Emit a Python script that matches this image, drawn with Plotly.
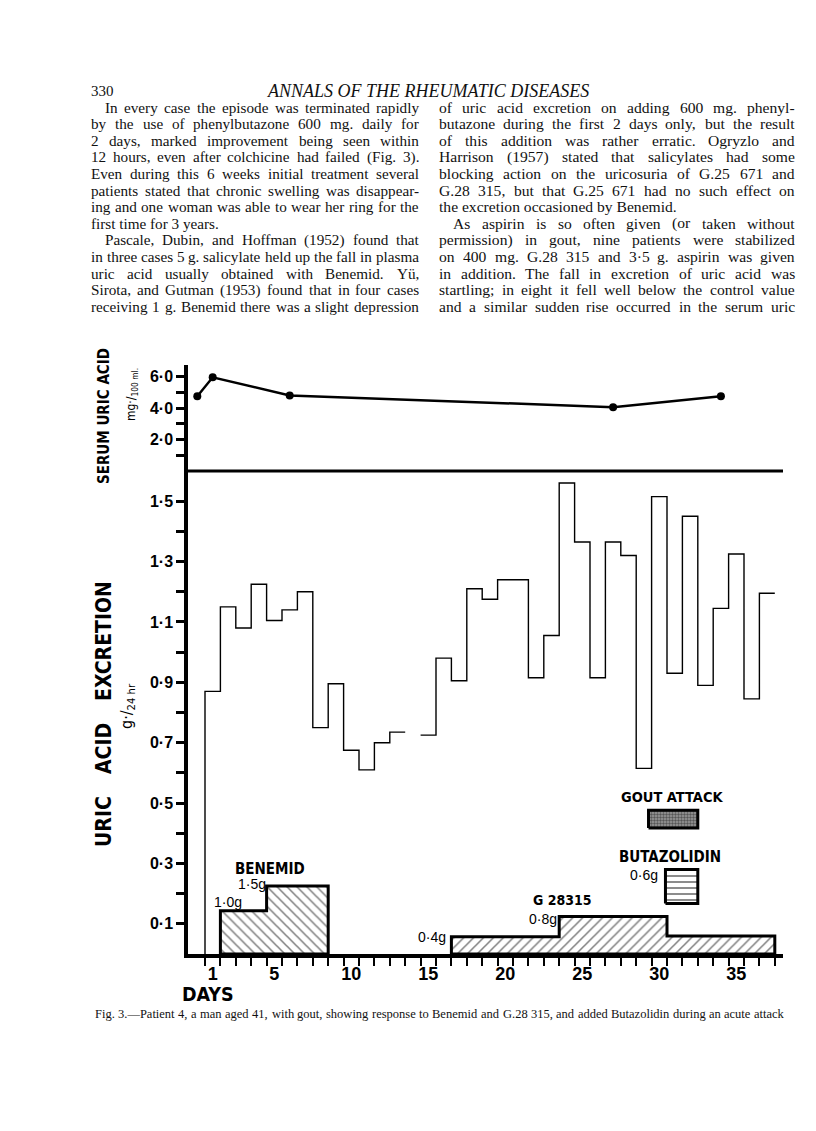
import plotly.graph_objects as go

W, H = 816, 1131

# ---------------- chart data ----------------
# uric acid excretion (g./24 hr); day n occupies the interval [n-1, n] on the axis
excretion_days = list(range(1, 38))
excretion_g = [0.87, 1.15, 1.08, 1.225, 1.105, 1.14, 1.20, 0.75, 0.895, 0.675,
               0.61, 0.70, 0.735, None, 0.725, 0.98, 0.905, 1.21, 1.175, 1.24,
               1.24, 0.915, 1.055, 1.56, 1.365, 0.915, 1.365, 1.32, 0.615, 1.515,
               0.93, 1.45, 0.89, 1.145, 1.325, 0.845, 1.195]
# serum uric acid (mg./100 ml.)
serum_days = [0, 1, 6, 27, 34]
serum_mg = [4.75, 5.95, 4.8, 4.05, 4.75]

# drug blocks (axis day boundaries, block heights in excretion units)
benemid_edges = [1, 4, 8]
benemid_level = [0.143, 0.225]
g28315_edges = [16, 23, 30, 37]
g28315_level = [0.057, 0.124, 0.06]
gout_attack_days = [28.8, 32]
gout_attack_band = [0.417, 0.476]
butazolidin_days = [29.9, 32]
butazolidin_band = [0.167, 0.28]

x_tick_days = [1, 5, 10, 15, 20, 25, 30, 35]
x_minor_ticks = [0, 1, 2, 3, 4, 5, 6, 7, 8, 9, 10, 11, 12, 13, 14, 15, 16, 17, 18,
                 19, 20, 21, 22, 23, 24, 25, 26, 27, 28, 29, 30, 31, 32, 33, 34, 35, 36, 37]
exc_tickvals = [0.1, 0.2, 0.3, 0.4, 0.5, 0.6, 0.7, 0.8, 0.9, 1.0, 1.1, 1.2, 1.3, 1.4, 1.5]
exc_ticktext = ["0·1", "", "0·3", "", "0·5", "", "0·7", "", "0·9", "", "1·1", "", "1·3", "", "1·5"]
serum_tickvals = [1, 2, 3, 4, 5, 6]
serum_ticktext = ["", "2·0", "", "4·0", "", "6·0"]

# ---------------- page text ----------------
header_page = "330"
header_title = "ANNALS OF THE RHEUMATIC DISEASES"
left_lines = [
    ("In every case the episode was terminated rapidly", True, False),
    ("by the use of phenylbutazone 600 mg. daily for", False, False),
    ("2 days, marked improvement being seen within", False, False),
    ("12 hours, even after colchicine had failed (Fig. 3).", False, False),
    ("Even during this 6 weeks initial treatment several", False, False),
    ("patients stated that chronic swelling was disappear-", False, False),
    ("ing and one woman was able to wear her ring for the", False, False),
    ("first time for 3 years.", False, True),
    ("Pascale, Dubin, and Hoffman (1952) found that", True, False),
    ("in three cases 5 g. salicylate held up the fall in plasma", False, False),
    ("uric acid usually obtained with Benemid. Yü,", False, False),
    ("Sirota, and Gutman (1953) found that in four cases", False, False),
    ("receiving 1 g. Benemid there was a slight depression", False, False),
]
right_lines = [
    ("of uric acid excretion on adding 600 mg. phenyl-", False, False),
    ("butazone during the first 2 days only, but the result", False, False),
    ("of this addition was rather erratic. Ogryzlo and", False, False),
    ("Harrison (1957) stated that salicylates had some", False, False),
    ("blocking action on the uricosuria of G.25 671 and", False, False),
    ("G.28 315, but that G.25 671 had no such effect on", False, False),
    ("the excretion occasioned by Benemid.", False, True),
    ("As aspirin is so often given (or taken without", True, False),
    ("permission) in gout, nine patients were stabilized", False, False),
    ("on 400 mg. G.28 315 and 3·5 g. aspirin was given", False, False),
    ("in addition. The fall in excretion of uric acid was", False, False),
    ("startling; in eight it fell well below the control value", False, False),
    ("and a similar sudden rise occurred in the serum uric", False, False),
]
caption = ("Fig. 3.—Patient 4, a man aged 41, with gout, showing response to Benemid "
           "and G.28 315, and added Butazolidin during an acute attack")

# ---------------- geometry helpers ----------------
AX_L, AX_R = 180, 775          # pixel x of plot area
BASE, SEP, TOP = 946, 463, 357  # pixel y: excretion zero, separator, serum top
TICK0, TICKSTEP = 197, 15.4     # pixel x of axis day 0 and per-day spacing


def px(x):
    return x / W


def py(y):
    return 1 - y / H


def kx(p):
    return (p - TICK0) / TICKSTEP


SERIF = "Liberation Serif, Times New Roman, serif"
SANS = "Liberation Sans, Arial, sans-serif"
NARROW = "Liberation Sans Narrow, Arial Narrow, DejaVu Sans Condensed, sans-serif"

TNR = {' ': 250, '!': 333, '"': 408, "'": 333, '(': 333, ')': 333, ',': 250, '-': 333,
       '.': 250, '/': 278, ':': 278, ';': 278, '?': 444, '·': 250, 'ü': 500, '—': 1000}
for c in "0123456789":
    TNR[c] = 500
TNR.update(dict(zip("ABCDEFGHIJKLMNOPQRSTUVWXYZ",
                    [722, 667, 667, 722, 611, 556, 722, 722, 333, 389, 722, 611, 889,
                     722, 722, 556, 722, 667, 556, 611, 722, 722, 944, 722, 722, 611])))
TNR.update(dict(zip("abcdefghijklmnopqrstuvwxyz",
                    [444, 500, 444, 500, 444, 333, 500, 500, 278, 278, 500, 278, 778,
                     500, 500, 500, 500, 333, 389, 278, 500, 500, 722, 500, 500, 444])))


def tw(s, fs):
    return sum(TNR.get(ch, 500) for ch in s) * fs / 1000.0


annotations = []


def text_ann(text, x, y, size, family=SERIF, anchor="left", color="#111", **kw):
    annotations.append(dict(text=text, x=px(x), y=py(y), xref="paper", yref="paper",
                            xanchor=anchor, yanchor="middle", showarrow=False,
                            borderpad=0, font=dict(family=family, size=size, color=color), **kw))


def body_line(text, x0, x1, y, fs, indent, last):
    words = text.split()
    if last or len(words) == 1:
        text_ann(text, x0 + indent, y, fs)
        return
    widths = [tw(w, fs) for w in words]
    gap = (x1 - x0 - indent - sum(widths)) / (len(words) - 1)
    x = x0 + indent
    for w, wd in zip(words, widths):
        text_ann(w, x, y, fs)
        x += wd + gap


LEAD = 16.6
FIRST = 99
LEFT_COL = (82, 410, 15.2)
RIGHT_COL = (430, 786, 15.6)
INDENT = 14

text_ann(header_page, 82, 83, 15)
text_ann(header_title, 420, 83, 18, anchor="center")
annotations[-1]["font"]["style"] = "italic"
for i, (t, ind, last) in enumerate(left_lines):
    body_line(t, LEFT_COL[0], LEFT_COL[1], FIRST + i * LEAD, LEFT_COL[2],
              INDENT if ind else 0, last)
for i, (t, ind, last) in enumerate(right_lines):
    body_line(t, RIGHT_COL[0], RIGHT_COL[1], FIRST + i * LEAD, RIGHT_COL[2],
              INDENT if ind else 0, last)
body_line(caption, 86, 775, 1006, 12.5, 0, False)

# ---------------- traces ----------------
fig = go.Figure()

# excretion step outline
sx, sy = [excretion_days[0] - 1], [0]
for d, v in zip(excretion_days, excretion_g):
    if v is None:
        sx.append(None)
        sy.append(None)
        continue
    sx += [d - 1, d]
    sy += [v, v]
fig.add_trace(go.Scatter(x=sx, y=sy, mode="lines", line=dict(color="black", width=1.4),
                         connectgaps=False, hoverinfo="skip"))

# serum uric acid
fig.add_trace(go.Scatter(x=[d - 0.5 for d in serum_days], y=serum_mg, yaxis="y2",
                         mode="lines+markers", line=dict(color="black", width=2.5),
                         marker=dict(color="black", size=8), hoverinfo="skip"))


def step_block(edges, levels):
    xs, ys = [edges[0]], [0]
    for i, lv in enumerate(levels):
        xs += [edges[i], edges[i + 1]]
        ys += [lv, lv]
    xs += [edges[-1], edges[0]]
    ys += [0, 0]
    return xs, ys


bx, by = step_block(benemid_edges, benemid_level)
fig.add_trace(go.Scatter(x=bx, y=by, mode="lines", fill="toself", fillcolor="white",
                         fillpattern=dict(shape="\\", fgcolor="black", bgcolor="white",
                                          size=7, solidity=0.22),
                         line=dict(color="black", width=3), hoverinfo="skip"))
gx, gy = step_block(g28315_edges, g28315_level)
fig.add_trace(go.Scatter(x=gx, y=gy, mode="lines", fill="toself", fillcolor="white",
                         fillpattern=dict(shape="/", fgcolor="black", bgcolor="white",
                                          size=7, solidity=0.22),
                         line=dict(color="black", width=3), hoverinfo="skip"))


def box(days, band):
    return ([days[0], days[1], days[1], days[0], days[0]],
            [band[0], band[0], band[1], band[1], band[0]])


ox, oy = box(gout_attack_days, gout_attack_band)
fig.add_trace(go.Scatter(x=ox, y=oy, mode="lines", fill="toself",
                         fillpattern=dict(shape=".", fgcolor="#111", bgcolor="#9a9a9a",
                                          size=3, solidity=0.5),
                         line=dict(color="black", width=3), hoverinfo="skip"))
zx, zy = box(butazolidin_days, butazolidin_band)
fig.add_trace(go.Scatter(x=zx, y=zy, mode="lines", fill="toself",
                         fillpattern=dict(shape="-", fgcolor="black", bgcolor="white",
                                          size=6, solidity=0.3),
                         line=dict(color="black", width=3), hoverinfo="skip"))


# ---------------- chart labels ----------------
def chart_ann(text, x, y, size, family=NARROW, weight="bold", anchor="center"):
    annotations.append(dict(text=text, x=x, y=y, xref="x", yref="y", xanchor=anchor,
                            yanchor="middle", showarrow=False, borderpad=0,
                            font=dict(family=family, size=size, color="black", weight=weight)))


chart_ann("BENEMID", 4.2, 0.282, 15)
chart_ann("1·5g", 4.0, 0.232, 14, family=SANS, weight="normal", anchor="right")
chart_ann("1·0g", 0.5, 0.172, 14, family=SANS, weight="normal", anchor="left")
chart_ann("G 28315", 23.2, 0.18, 14)
chart_ann("0·8g", 22.95, 0.115, 14, family=SANS, weight="normal", anchor="right")
chart_ann("0·4g", 15.7, 0.055, 14, family=SANS, weight="normal", anchor="right")
chart_ann("GOUT ATTACK", 30.3, 0.52, 14.5)
chart_ann("BUTAZOLIDIN", 30.2, 0.322, 15)
chart_ann("0·6g", 29.45, 0.262, 14, family=SANS, weight="normal", anchor="right")


# axis titles (rotated)
def rot_ann(text, x, y, size, family=NARROW, weight="bold"):
    annotations.append(dict(text=text, x=px(x), y=py(y), xref="paper", yref="paper",
                            xanchor="center", yanchor="middle", textangle=-90,
                            showarrow=False, borderpad=0,
                            font=dict(family=family, size=size, color="black", weight=weight)))


rot_ann("EXCRETION", 96, 633, 21)
rot_ann("ACID", 96, 741, 21)
rot_ann("URIC", 96, 814, 21)
rot_ann("SERUM URIC ACID", 96, 408, 15)
rot_ann("mg·/<sub>100 ml.</sub>", 124, 386, 12, weight="normal")
rot_ann("g·/<sub>24 hr</sub>", 119, 698, 16, weight="normal")
text_ann("DAYS", 200, 986, 19.5, family=NARROW, anchor="center", color="black")
annotations[-1]["font"]["weight"] = "bold"

# ---------------- layout ----------------
fig.update_layout(
    width=W, height=H, margin=dict(l=0, r=0, t=0, b=0),
    paper_bgcolor="white", plot_bgcolor="rgba(0,0,0,0)", showlegend=False,
    xaxis=dict(domain=[px(AX_L), px(AX_R)], range=[kx(AX_L), kx(AX_R)],
               showline=True, linecolor="black", linewidth=4, showgrid=False,
               zeroline=False, tickmode="array",
               tickvals=[d - 0.5 for d in x_tick_days], ticktext=[str(d) for d in x_tick_days],
               ticks="outside", ticklen=0, tickcolor="rgba(0,0,0,0)",
               tickfont=dict(family=SANS, size=18, color="black", weight="bold"),
               minor=dict(tickmode="array", tickvals=x_minor_ticks, ticks="outside",
                          ticklen=8, tickwidth=2, tickcolor="black"),
               fixedrange=True),
    yaxis=dict(domain=[py(BASE), py(SEP)], range=[0, 1.6], anchor="x",
               showline=True, linecolor="black", linewidth=3.5, showgrid=False,
               zeroline=False, tickmode="array", tickvals=exc_tickvals, ticktext=exc_ticktext,
               ticks="outside", ticklen=8, tickwidth=2.5, tickcolor="black",
               tickfont=dict(family=SANS, size=16, color="black", weight="bold"),
               fixedrange=True),
    yaxis2=dict(domain=[py(SEP), py(TOP)], range=[0, (SEP - TOP) / 15.75], anchor="x",
                showline=True, linecolor="black", linewidth=3.5, showgrid=False,
                zeroline=False, tickmode="array", tickvals=serum_tickvals,
                ticktext=serum_ticktext, ticks="outside", ticklen=8, tickwidth=2.5,
                tickcolor="black",
                tickfont=dict(family=SANS, size=16, color="black", weight="bold"),
                fixedrange=True),
    shapes=[dict(type="line", xref="paper", yref="paper", x0=px(AX_L), x1=px(AX_R),
                 y0=py(SEP), y1=py(SEP), line=dict(color="black", width=3))],
    annotations=annotations,
)

fig.write_html("out.html")
